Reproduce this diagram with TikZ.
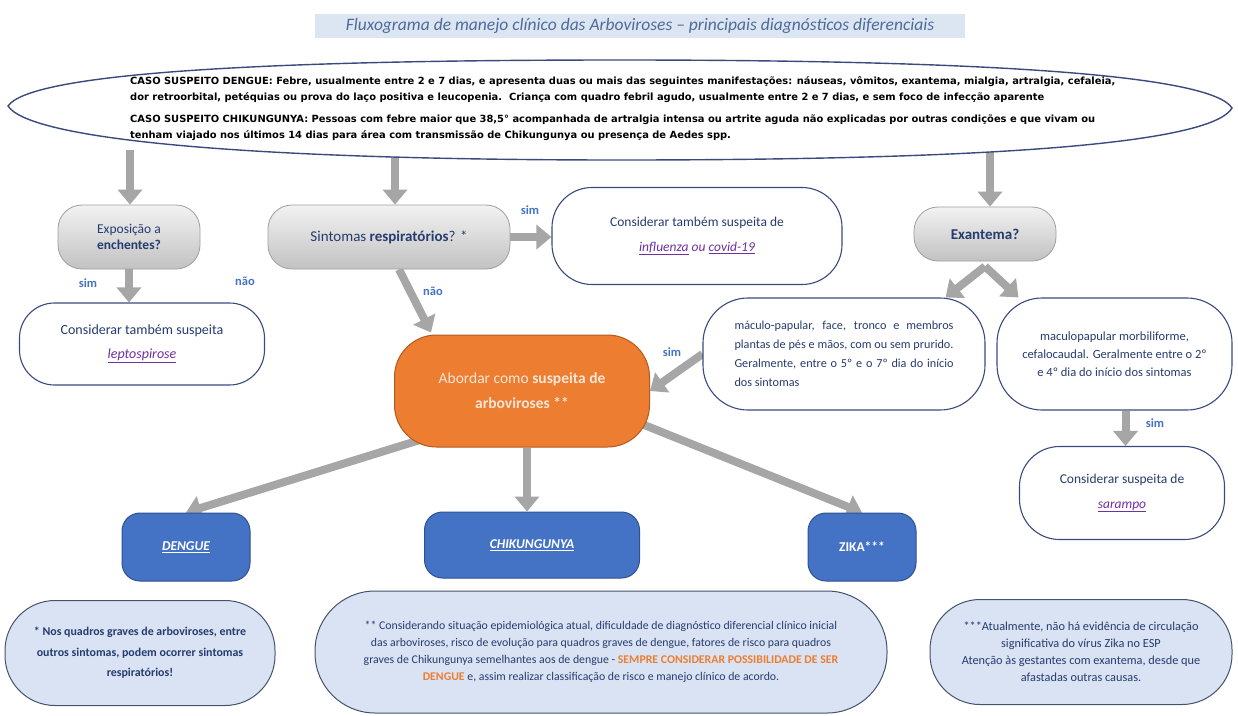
\documentclass[tikz,border=0pt]{standalone}
\usepackage{fontspec}
\setmainfont{Carlito}
\newfontfamily\dejasans{DejaVu Sans}
\usetikzlibrary{arrows.meta,calc,shapes.geometric}
\pgfdeclarelayer{back}
\pgfdeclarelayer{bg}
\pgfsetlayers{back,bg,main}
\definecolor{navy}{HTML}{263C6E}
\definecolor{boxb}{HTML}{3B4A7E}
\definecolor{titlef}{HTML}{DCE6F2}
\definecolor{titlet}{HTML}{4F6A9A}
\definecolor{labb}{HTML}{4472C4}
\definecolor{purp}{HTML}{7030A0}
\definecolor{orng}{HTML}{ED7D31}
\definecolor{orngb}{HTML}{B35A1F}
\definecolor{peach}{HTML}{FBE5D6}
\definecolor{blueN}{HTML}{4472C4}
\definecolor{blueb}{HTML}{2F528F}
\definecolor{notef}{HTML}{DAE3F3}
\definecolor{noteb}{HTML}{44546A}
\definecolor{arrgray}{HTML}{A6A6A6}
\newcommand{\purpu}[1]{\underline{#1}}
\tikzset{
 ar/.style={draw=arrgray, line width=8pt, -{Triangle[width=24pt,length=15pt]}},
 gq/.style={draw=gray!75, line width=0.8pt, top color=gray!10, bottom color=gray!48, rounded corners=24pt, text=navy, align=center, inner sep=2pt},
 wb/.style={draw=boxb, line width=1.1pt, fill=white, text=navy, align=center},
 bn/.style={draw=blueb, line width=1pt, fill=blueN, text=white, rounded corners=18pt, font=\fontsize{13.5}{15}\selectfont\bfseries},
 nb/.style={draw=noteb, line width=1pt, fill=notef, text=navy, align=center},
 lab/.style={text=labb, font=\fontsize{12.5}{14}\selectfont\bfseries},
}
\begin{document}
\begin{tikzpicture}[x=1pt,y=-1pt]
\useasboundingbox (0,0) rectangle (1238,715);
\begin{pgfonlayer}{back}
\fill[white] (0,0) rectangle (1238,715);
\end{pgfonlayer}

% title
\node[fill=titlef, minimum width=650pt, minimum height=24pt, text=titlet, font=\fontsize{17.5}{19}\selectfont\itshape] (title) at (640,26) {Fluxograma de manejo clínico das Arboviroses – principais diagnósticos diferenciais};

% case blob
\draw[boxb, line width=1.4pt, fill=white] (8,106) .. controls (30,74) and (250,60) .. (620,60) .. controls (1000,60) and (1212,76) .. (1232,108) .. controls (1212,143) and (1000,160) .. (620,160) .. controls (250,160) and (30,140) .. (8,106) -- cycle;
\node[anchor=north west, align=left, inner sep=0pt, text=black, font=\dejasans\bfseries\fontsize{9.9}{16.5}\selectfont] (caso) at (130,76) {CASO SUSPEITO DENGUE: Febre, usualmente entre 2 e 7 dias, e apresenta duas ou mais das seguintes manifestações: náuseas, vômitos, exantema, mialgia, artralgia, cefaleia,\\ dor retroorbital, petéquias ou prova do laço positiva e leucopenia.\ \ Criança com quadro febril agudo, usualmente entre 2 e 7 dias, e sem foco de infecção aparente\\[5pt] CASO SUSPEITO CHIKUNGUNYA: Pessoas com febre maior que 38,5° acompanhada de artralgia intensa ou artrite aguda não explicadas por outras condições e que vivam ou\\ tenham viajado nos últimos 14 dias para área com transmissão de Chikungunya ou presença de Aedes spp.};
\coordinate (t1) at (130,150);
\coordinate (t2) at (395,150);
\coordinate (t3) at (990,150);

% gray question nodes
\node[gq, minimum width=142pt, minimum height=64pt, font=\fontsize{13.5}{16}\selectfont] (expo) at (129,237) {Exposição a\\\textbf{enchentes?}};
\node[gq, minimum width=242pt, minimum height=64pt, font=\fontsize{15}{17}\selectfont] (sint) at (389,237) {Sintomas \textbf{respiratórios}? *};
\node[gq, minimum width=142pt, minimum height=54pt, font=\fontsize{15}{17}\selectfont] (exan) at (985,234) {\textbf{Exantema?}};

% white boxes
\node[wb, rounded corners=35pt, minimum width=245pt, minimum height=82pt, font=\fontsize{14}{24}\selectfont] (lepto) at (142,344) {Considerar também suspeita\\{\itshape\color{purp}\purpu{leptospirose}}};
\node[wb, rounded corners=40pt, minimum width=290pt, minimum height=97pt, font=\fontsize{13.5}{25}\selectfont] (infl) at (697,236) {Considerar também suspeita de\\{\itshape\color{purp}\purpu{influenza} ou \purpu{covid-19}}};
\node[wb, rounded corners=45pt, minimum width=282pt, minimum height=112pt, align=left, font=\fontsize{12.2}{19.2}\selectfont] (exl) at (844,354) {\makebox[219pt][s]{máculo-papular, face, tronco e membros}\\\makebox[219pt][s]{plantas de pés e mãos, com ou sem prurido.}\\\makebox[219pt][s]{Geralmente, entre o 5º e o 7º dia do início}\\dos sintomas};
\node[wb, rounded corners=45pt, minimum width=235pt, minimum height=112pt, font=\fontsize{12.5}{18}\selectfont] (exr) at (1114.5,354) {maculopapular morbiliforme,\\cefalocaudal. Geralmente entre o 2º\\e 4º dia do início dos sintomas};
\node[wb, rounded corners=40pt, minimum width=205pt, minimum height=93pt, font=\fontsize{13.5}{25}\selectfont] (saramp) at (1122,493) {Considerar suspeita de\\{\itshape\color{purp}\purpu{sarampo}}};

% orange
\node[draw=orngb, line width=1pt, fill=orng, rounded corners=42pt, minimum width=255pt, minimum height=112pt, text=peach, align=center, font=\fontsize{15.5}{25}\selectfont] (abord) at (522,391) {Abordar como \textbf{suspeita de}\\\textbf{arboviroses **}};

% blue result nodes
\node[bn, minimum width=128pt, minimum height=68pt] (dengue) at (186,547) {\itshape\purpu{DENGUE}};
\node[bn, minimum width=215pt, minimum height=66pt] (chik) at (532,545) {\itshape\purpu{CHIKUNGUNYA}};
\node[bn, minimum width=108pt, minimum height=68pt] (zika) at (862,547) {ZIKA***};

% notes
\node[nb, rounded corners=50pt, minimum width=270pt, minimum height=105pt, font=\fontsize{11.9}{20.5}\selectfont\bfseries] (n1) at (140,653) {* Nos quadros graves de arboviroses, entre\\outros sintomas, podem ocorrer sintomas\\respiratórios!};
\node[nb, rounded corners=60pt, minimum width=572pt, minimum height=122pt, font=\fontsize{11.8}{17}\selectfont] (n2) at (601,652) {** Considerando situação epidemiológica atual, dificuldade de diagnóstico diferencial clínico inicial\\das arboviroses, risco de evolução para quadros graves de dengue, fatores de risco para quadros\\graves de Chikungunya semelhantes aos de dengue - {\color{orng}\bfseries SEMPRE CONSIDERAR POSSIBILIDADE DE SER}\\{\color{orng}\bfseries DENGUE} e, assim realizar classificação de risco e manejo clínico de acordo.};
\node[nb, rounded corners=50pt, minimum width=302pt, minimum height=105pt, font=\fontsize{12.3}{17}\selectfont] (n3) at (1081,652) {***Atualmente, não há evidência de circulação\\significativa do vírus Zika no ESP\\Atenção às gestantes com exantema, desde que\\afastadas outras causas.};

% labels
\node[lab] (sim1) at (88,283) {sim};
\node[lab] (nao1) at (245,281) {não};
\node[lab] (sim2) at (530,210) {sim};
\node[lab] (nao2) at (433,291) {não};
\node[lab] (sim3) at (672,352) {sim};
\node[lab] (sim4) at (1155,423) {sim};

% connectors
\coordinate (apex) at ($(exan.south)+(0,5)$);
\coordinate (cs) at ($(abord.south)+(5,0)$);
\coordinate (rs) at ($(exr.south)+(11,0)$);
\begin{pgfonlayer}{bg}
\draw[ar] (t1) -- (t1 |- expo.north);
\draw[ar] (t2) -- (t2 |- sint.north);
\draw[ar] (t3) -- (t3 |- exan.north);
\draw[ar] (expo.south) -- (expo.south |- lepto.north);
\draw[ar] ($(sint.south)+(10,0)$) -- ($(abord.north west)+(37,-2)$);
\draw[ar] (sint.east) -- (sint.east -| infl.west);
\draw[ar] (apex) -- ($(exl.north east)+(-40,0)$);
\draw[ar] (apex) -- ($(exr.north west)+(22,0)$);
\draw[ar] (exl.west) -- (abord.east);
\draw[ar] (rs) -- (rs |- saramp.north);
\draw[ar] ($(abord.south west)+(50,-15)$) -- (dengue.north);
\draw[ar] (cs) -- (cs |- chik.north);
\draw[ar] ($(abord.south east)+(-12,-25)$) -- (zika.north);
\end{pgfonlayer}
\end{tikzpicture}
\end{document}
